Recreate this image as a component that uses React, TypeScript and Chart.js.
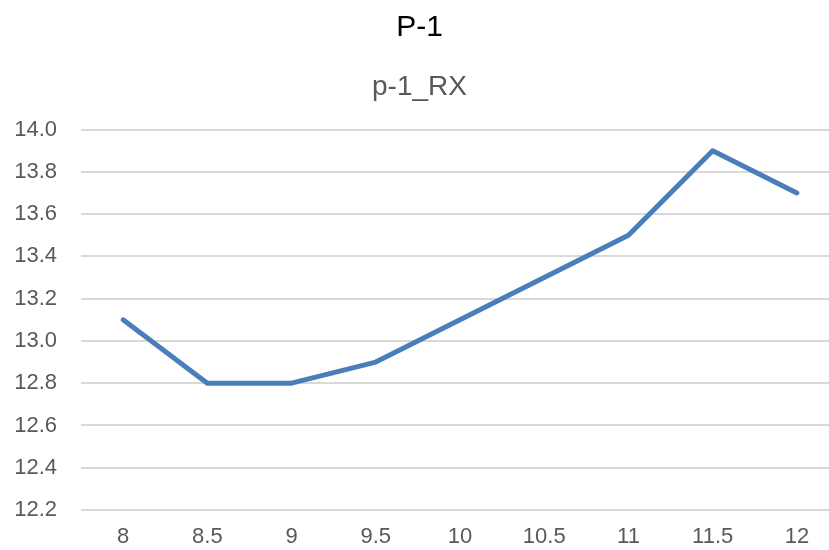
import React, { useEffect, useRef } from "react";
import { Chart, registerables } from "chart.js";

Chart.register(...registerables);

const categories: string[] = ["8", "8.5", "9", "9.5", "10", "10.5", "11", "11.5", "12"];
const seriesValues: number[] = [13.1, 12.8, 12.8, 12.9, 13.1, 13.3, 13.5, 13.9, 13.7];
const yTickMin = 12.2;
const yTickMax = 14.0;
const yTickStep = 0.2;
const titleText = "P-1";
const subtitleText = "p-1_RX";

const FONT = "'Liberation Sans', Arial, sans-serif";

export default function App() {
  const ref = useRef<HTMLCanvasElement | null>(null);

  useEffect(() => {
    if (!ref.current) return;
    const chart = new Chart(ref.current, {
      type: "line",
      data: {
        labels: categories,
        datasets: [
          {
            label: subtitleText,
            data: seriesValues,
            borderColor: "#4a7ebb",
            backgroundColor: "#4a7ebb",
            borderWidth: 5,
            pointRadius: 0,
            pointHoverRadius: 0,
            tension: 0,
            borderCapStyle: "round",
            borderJoinStyle: "round",
          },
        ],
      },
      options: {
        responsive: false,
        animation: false,
        layout: { padding: { left: 0, right: 11, top: 0, bottom: 0 } },
        plugins: {
          legend: { display: false },
          tooltip: { enabled: false },
          title: {
            display: true,
            text: titleText,
            color: "#000000",
            font: { family: FONT, size: 30, weight: "normal" },
            padding: { top: 10, bottom: 0 },
          },
          subtitle: {
            display: true,
            text: subtitleText,
            color: "#595959",
            font: { family: FONT, size: 28, weight: "normal" },
            padding: { top: 24, bottom: 26 },
          },
        },
        scales: {
          x: {
            type: "category",
            offset: true,
            grid: { display: false, drawTicks: false },
            border: { display: false },
            ticks: {
              color: "#595959",
              font: { family: FONT, size: 22 },
              padding: 14,
              maxRotation: 0,
              autoSkip: false,
            },
            afterFit: (axis: any) => {
              axis.height = 40;
            },
          },
          y: {
            min: yTickMin,
            max: yTickMax,
            grid: { color: "#d9d9d9", lineWidth: 2, drawTicks: false },
            border: { display: false },
            ticks: {
              stepSize: yTickStep,
              color: "#595959",
              font: { family: FONT, size: 22 },
              padding: 24,
              callback: (v: any) => Number(v).toFixed(1),
            },
            afterFit: (axis: any) => {
              axis.width = 81;
            },
          },
        },
      },
    });
    return () => chart.destroy();
  }, []);

  return (
    <div
      style={{
        position: "fixed",
        left: 0,
        top: 0,
        width: 829,
        height: 550,
        overflow: "hidden",
        background: "#ffffff",
      }}
    >
      <canvas ref={ref} width={850} height={550} style={{ display: "block", width: 850, height: 550 }} />
    </div>
  );
}
